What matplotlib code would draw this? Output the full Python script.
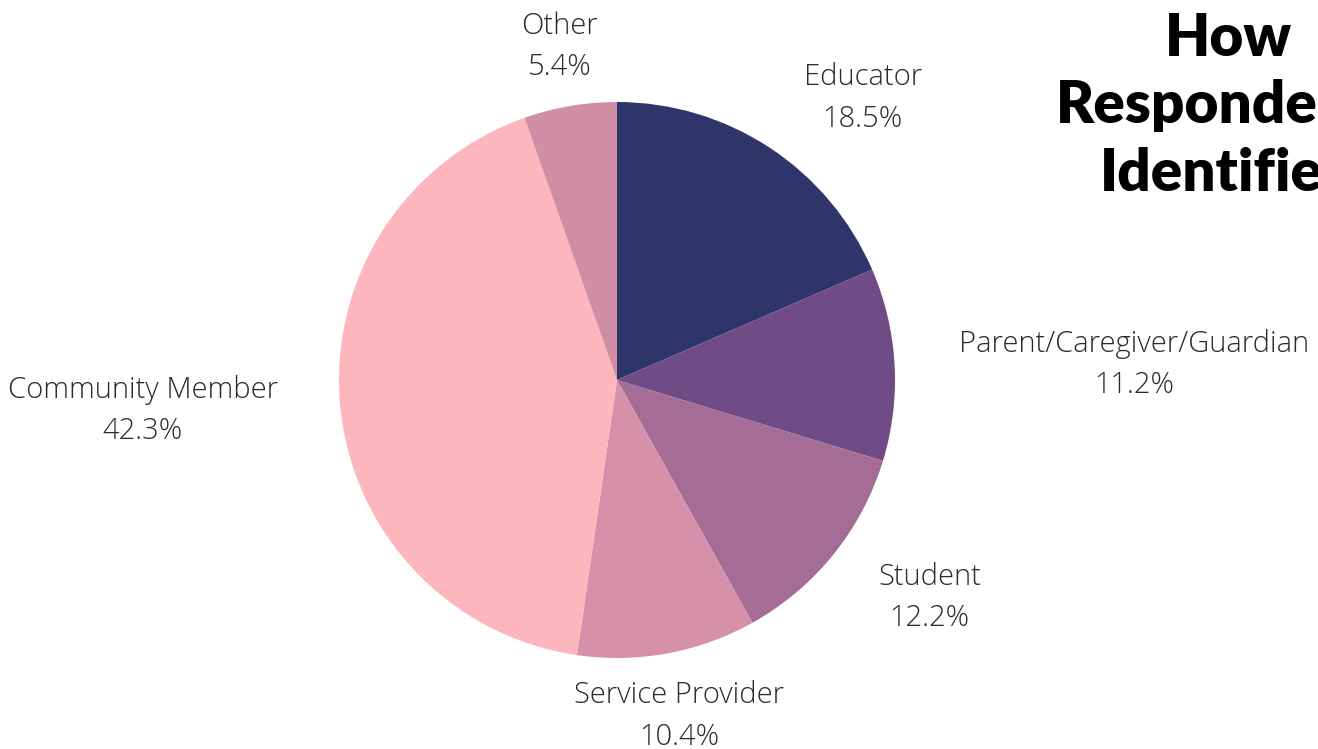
import numpy as np
import matplotlib.pyplot as plt

labels = ["Educator", "Parent/Caregiver/Guardian", "Student", "Service Provider",
          "Community Member", "Other"]
values = [18.5, 11.2, 12.2, 10.4, 42.3, 5.4]
colors = ["#2f346b", "#704c86", "#a56c95", "#d690aa", "#fdb7bc", "#d08ea6"]

# label placement: distance (in radii) and small angle nudge (deg)
label_dist = [1.345, 1.86, 1.37, 1.23, 1.71, 1.215]
label_nudge = [-7.8, -1.5, 4.0, 0.0, -1.9, 0.0]

fig = plt.figure(figsize=(13.18, 7.49), dpi=100)
ax = fig.add_axes([0, 0, 1, 1])

wedges, _ = ax.pie(values, colors=colors, startangle=90, counterclock=False,
                   radius=1, center=(0, 0))

# center of pie at (617, 380) px, radius 278 px
r_px = 278.0
ax.set_xlim(-617 / r_px, (1318 - 617) / r_px)
ax.set_ylim(-(749 - 380) / r_px, 380 / r_px)
ax.axis("off")

total = sum(values)
start = 90.0
for lab, v, d, nud in zip(labels, values, label_dist, label_nudge):
    mid = start - v / total * 360 / 2
    start -= v / total * 360
    a = np.deg2rad(mid + nud)
    ax.text(d * np.cos(a), d * np.sin(a), f"{lab}\n{v}%", ha="center", va="center",
            fontsize=21, family="Open Sans", fontweight="light", color="#2b2b2b",
            linespacing=1.52)

fig.text(1228 / 1318, 1 - 106 / 749, "How\nRespondents\nIdentified", ha="center",
         va="center", fontsize=42, family="Lato", fontweight="heavy", color="black",
         linespacing=1.34)

fig.savefig("out.png", dpi=100)
